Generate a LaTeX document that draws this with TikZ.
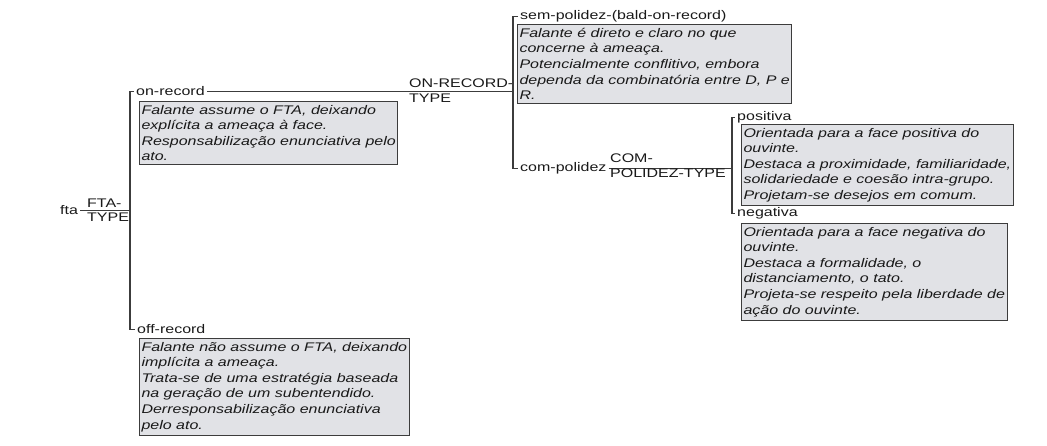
\documentclass[tikz,border=0pt]{standalone}
\usepackage{fontspec}
\setmainfont[FakeStretch=1.28]{Liberation Sans}
\usepackage{tikz}
\usetikzlibrary{positioning}
\usepackage{xcolor}
\definecolor{boxfill}{RGB}{225,226,230}
\definecolor{linegray}{RGB}{60,60,60}

\begin{document}
\begin{tikzpicture}[x=1pt, y=-1pt,
    lbl/.style={inner xsep=2pt, inner ysep=1pt, anchor=base west, text=black!90, font=\fontsize{12.5}{14}\selectfont},
    desc/.style={draw=linegray, line width=1pt, fill=boxfill, anchor=north west, align=left,
                 inner xsep=2pt, inner ysep=3.5pt, text=black!90, font=\fontsize{12.5}{15.6}\selectfont\itshape},
    branch/.style={draw=linegray, line width=1.4pt}]
        \useasboundingbox (0,0) rectangle (1047,446);

        % Root
        \node[lbl] (fta) at (58,215) {fta};
        \coordinate (j1) at (130,211);
        \draw[branch] (fta.east) -- (fta.east -| j1);
        \node[lbl] (ftatype) at (85,207.5) {FTA-};
        \node[lbl] (ftatype2) at (85,222) {TYPE};

        % on-record / off-record
        \node[lbl] (onrec) at (134,96) {on-record};
        \node[lbl] (offrec) at (135,334) {off-record};
        \draw[branch] (onrec.west) -- (onrec.west -| j1) |- (offrec.west);

        \node[desc] (onrecbox) at (139,101) {
            Falante assume o FTA, deixando\\
            explícita a ameaça à face.\\
            Responsabilização enunciativa pelo\\
            ato.
        };
        \node[desc] (offrecbox) at (139,338) {
            Falante não assume o FTA, deixando\\
            implícita a ameaça.\\
            Trata-se de uma estratégia baseada\\
            na geração de um subentendido.\\
            Derresponsabilização enunciativa\\
            pelo ato.
        };

        % ON-RECORD-TYPE
        \coordinate (j2) at (513,91);
        \draw[branch] (onrec.east) -- (onrec.east -| j2);
        \node[lbl] (ontype) at (407,88) {ON-RECORD-};
        \node[lbl] (ontype2) at (407,103) {TYPE};

        \node[lbl] (sempol) at (518,20) {sem-polidez-(bald-on-record)};
        \node[lbl] (compol) at (518,171.5) {com-polidez};
        \draw[branch] (sempol.west) -- (sempol.west -| j2) |- (compol.west);

        \node[desc] (sempolbox) at (517,24) {
            Falante é direto e claro no que\\
            concerne à ameaça.\\
            Potencialmente conflitivo, embora\\
            dependa da combinatória entre D, P e\\
            R.
        };

        % COM-POLIDEZ-TYPE
        \coordinate (j3) at (732,166);
        \draw[branch] (compol.east) -- (compol.east -| j3);
        \node[lbl] (comtype) at (608,163) {COM-};
        \node[lbl] (comtype2) at (608,177.5) {POLIDEZ-TYPE};

        \node[lbl] (posit) at (735,121) {positiva};
        \node[lbl] (negat) at (735,216.5) {negativa};
        \draw[branch] (posit.west) -- (posit.west -| j3) |- (negat.west);

        \node[desc] (positbox) at (741,124) {
            Orientada para a face positiva do\\
            ouvinte.\\
            Destaca a proximidade, familiaridade,\\
            solidariedade e coesão intra-grupo.\\
            Projetam-se desejos em comum.
        };
        \node[desc] (negatbox) at (741,223) {
            Orientada para a face negativa do\\
            ouvinte.\\
            Destaca a formalidade, o\\
            distanciamento, o tato.\\
            Projeta-se respeito pela liberdade de\\
            ação do ouvinte.
        };
    \end{tikzpicture}
\end{document}
